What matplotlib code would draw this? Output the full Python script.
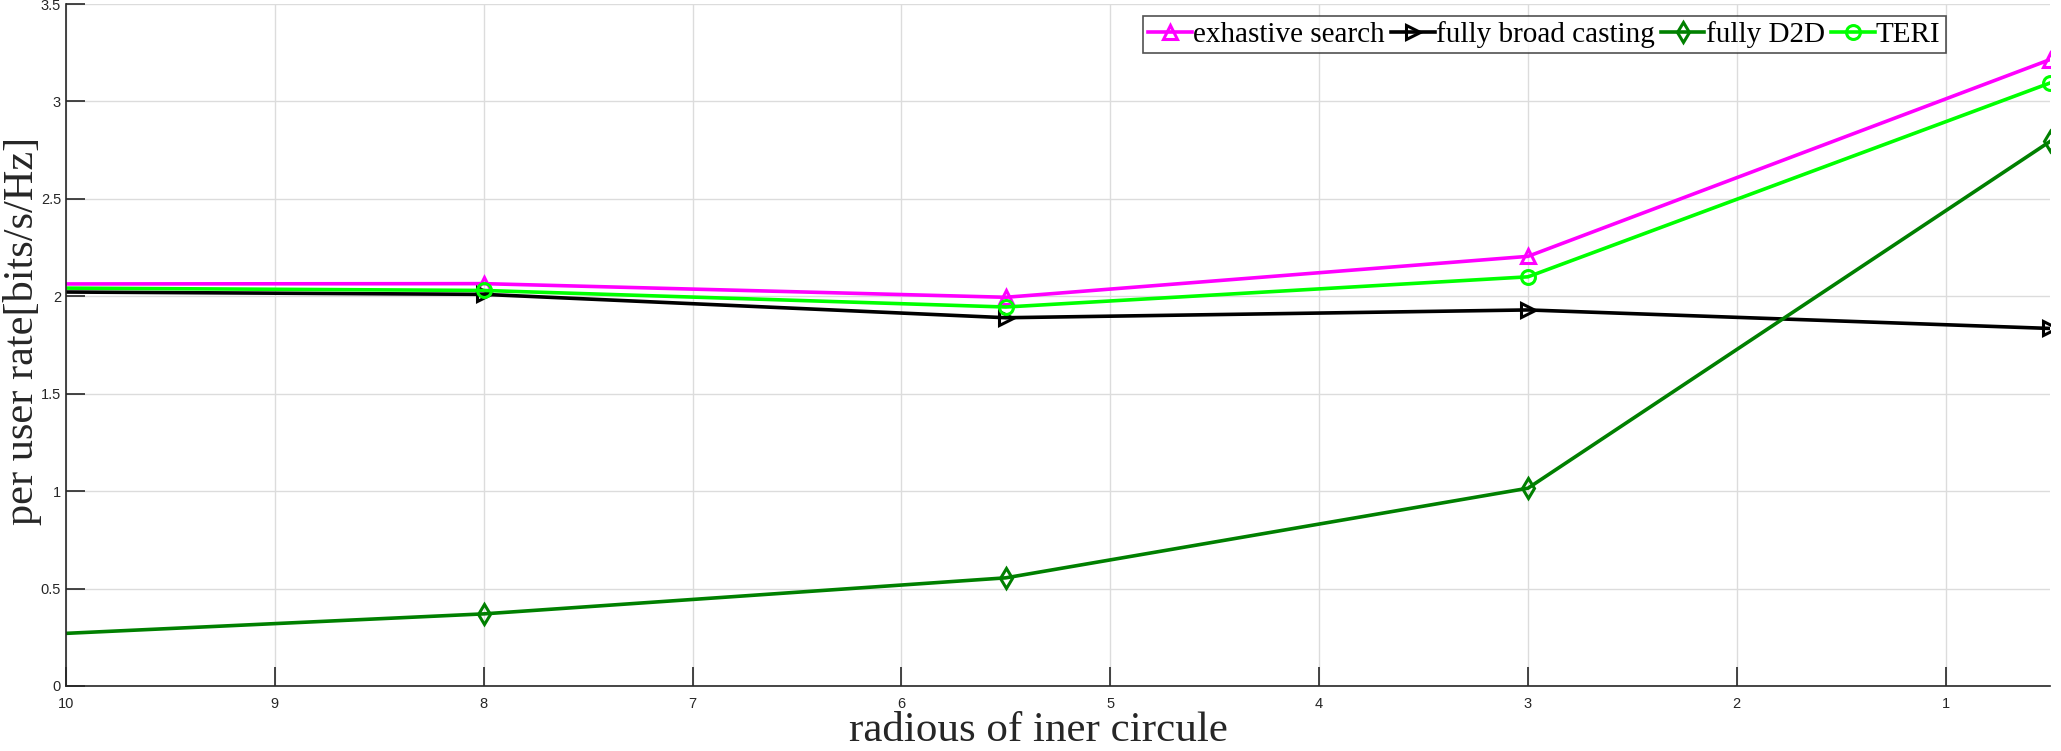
import matplotlib
matplotlib.use('Agg')
import matplotlib.pyplot as plt

# radius of inner circle (first point sits just outside the visible range)
radius = [10.5, 8, 5.5, 3, 0.5]

exhaustive = [2.063, 2.065, 1.995, 2.205, 3.215]
broadcast = [2.025, 2.01, 1.89, 1.93, 1.835]
d2d = [0.245, 0.37, 0.555, 1.015, 2.795]
teri = [2.045, 2.03, 1.945, 2.10, 3.095]

labels = ['exhastive search', 'fully broad casting', 'fully D2D', 'TERI']
x_ticks = [10, 9, 8, 7, 6, 5, 4, 3, 2, 1]
y_ticks = [0, 0.5, 1, 1.5, 2, 2.5, 3, 3.5]

fig = plt.figure(figsize=(20.61, 7.51), dpi=100)
ax = fig.add_axes([0.032, 0.0866, 0.9627, 0.908])

series = [
	(exhaustive, '#ff00ff', '^'),
	(broadcast, '#000000', '>'),
	(d2d, '#008000', 'd'),
	(teri, '#00ff00', 'o'),
]
for (vals, col, mk), lab in zip(series, labels):
	ax.plot(radius, vals, color=col, lw=2.6, marker=mk, ms=10,
			mfc='none', mec=col, mew=2.2, label=lab)

ax.set_xlim(10, 0.5)
ax.set_ylim(0, 3.5)
ax.set_xticks(x_ticks)
ax.set_yticks(y_ticks)
ax.set_yticklabels(['0', '0.5', '1', '1.5', '2', '2.5', '3', '3.5'])
ax.grid(True, color='#dcdcdc', lw=1)
ax.set_axisbelow(True)
for s in ['top', 'right']:
	ax.spines[s].set_visible(False)
for s in ['left', 'bottom']:
	ax.spines[s].set_color('#262626')
	ax.spines[s].set_linewidth(1.2)
ax.tick_params(direction='in', length=14, width=1.2, colors='#262626',
			   labelsize=10.5)
for t in ax.get_xticklabels() + ax.get_yticklabels():
	t.set_family('Liberation Sans')
ax.tick_params(axis='x', pad=8)

ax.set_xlabel('radious of iner circule', family='Liberation Serif',
			  fontsize=31, color='#262626')
ax.xaxis.set_label_coords(0.49, -0.038)
ax.set_ylabel('per user rate[bits/s/Hz]', family='Liberation Serif',
			  fontsize=30.5, color='#262626')
ax.yaxis.set_label_coords(-0.012, 0.52)

leg = ax.legend(loc='upper left', bbox_to_anchor=(0.543, 0.982), ncol=4,
				prop={'family': 'Liberation Serif', 'size': 21},
				handlelength=1.5, handletextpad=0.05, columnspacing=0.2,
				borderpad=0.17, borderaxespad=0, frameon=True, fancybox=False,
				markerscale=1.0)
leg.get_frame().set_edgecolor('#262626')
leg.get_frame().set_linewidth(1.2)

fig.savefig('out.png', dpi=100)
